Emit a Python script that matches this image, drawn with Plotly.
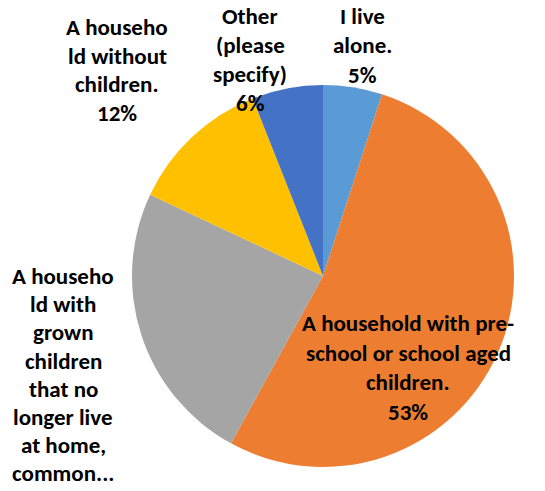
import plotly.graph_objects as go

categories = [
    "I live alone.",
    "A household with pre-school or school aged children.",
    "A household with grown children that no longer live at home, common...",
    "A household without children.",
    "Other (please specify)",
]
values = [5, 53, 24, 12, 6]
colors = ["#5B9BD5", "#ED7D31", "#A5A5A5", "#FFC000", "#4472C4"]

# wrapped label lines as displayed in the chart
label_lines = [
    ["I live", "alone.", "5%"],
    ["A household with pre-", "school or school aged", "children.", "53%"],
    ["A househo", "ld with", "grown", "children", "that no", "longer live", "at home,", "common..."],
    ["A househo", "ld without", "children.", "12%"],
    ["Other", "(please", "specify)", "6%"],
]
# label anchor (center x, first line y) in pixels and line step
label_pos = [(362, 16, 29.5), (408, 323, 29.7), (63, 276, 28.2), (117, 27, 28.7), (250, 16, 29)]

W, H = 545, 491
cx, cy, r = 323, 276, 191

fig = go.Figure(go.Pie(
    labels=categories,
    values=values,
    marker=dict(colors=colors, line=dict(width=0)),
    sort=False,
    direction="clockwise",
    rotation=0,
    textinfo="none",
    hoverinfo="label+percent",
    showlegend=False,
    domain=dict(x=[(cx - r) / W, (cx + r) / W], y=[1 - (cy + r) / H, 1 - (cy - r) / H]),
))

for lines, (px, py, step) in zip(label_lines, label_pos):
    for i, line in enumerate(lines):
        fig.add_annotation(
            x=px / W, y=1 - (py + i * step) / H, xref="paper", yref="paper",
            text=line, showarrow=False, xanchor="center", yanchor="middle",
            font=dict(family="Carlito, Lato", size=23, color="#000000", weight="bold"),
        )

fig.update_layout(
    width=W, height=H,
    margin=dict(l=0, r=0, t=0, b=0),
    paper_bgcolor="white", plot_bgcolor="white",
)
fig.write_html("out.html")
